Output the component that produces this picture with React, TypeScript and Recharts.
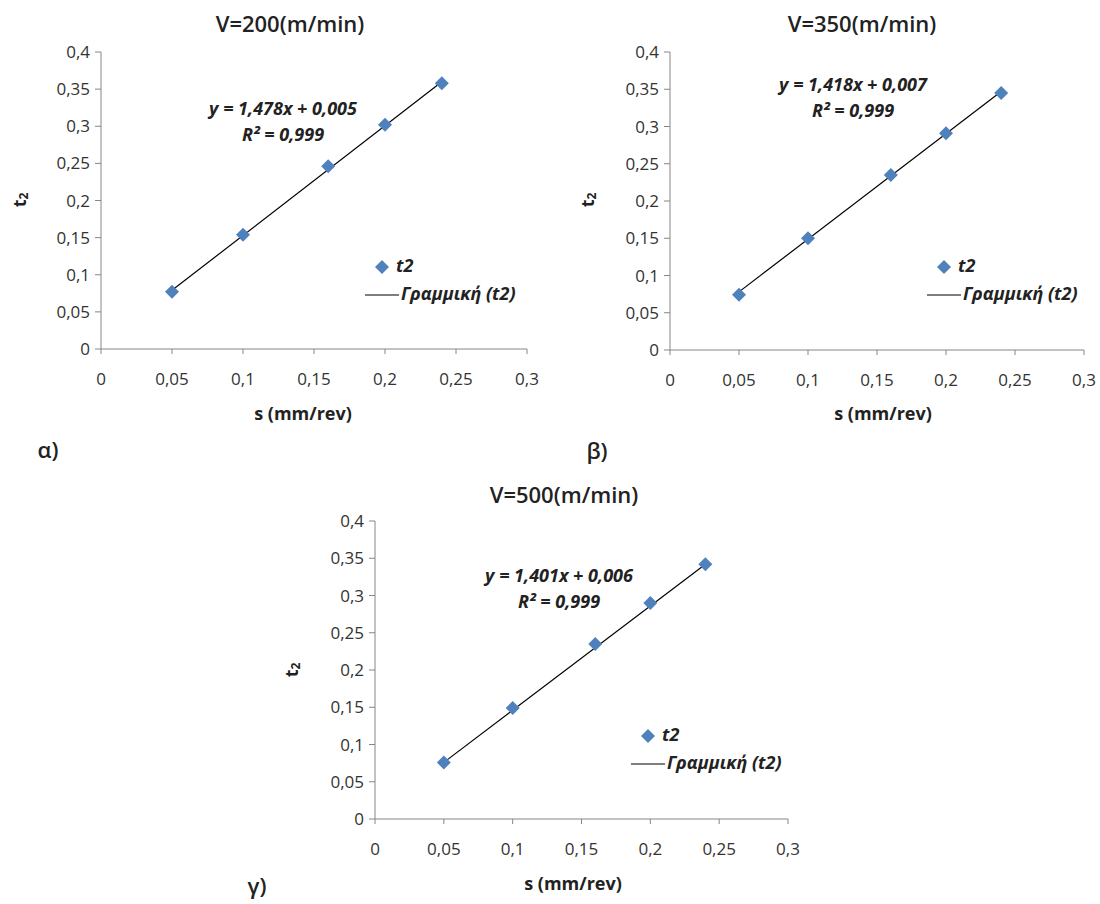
import { ScatterChart, Scatter, XAxis, YAxis } from "recharts";

const S_VALUES = [0.05, 0.1, 0.16, 0.2, 0.24];
const T2_V200 = [0.077, 0.154, 0.246, 0.302, 0.358];
const T2_V350 = [0.074, 0.15, 0.235, 0.291, 0.345];
const T2_V500 = [0.076, 0.149, 0.235, 0.29, 0.342];

// trend line end points
const TREND_S = [0.05, 0.24];
const TREND_V200 = [0.079, 0.36];
const TREND_V350 = [0.078, 0.347];
const TREND_V500 = [0.076, 0.342];

const X_TICKS = [0, 0.05, 0.1, 0.15, 0.2, 0.25, 0.3];
const Y_TICKS = [0, 0.05, 0.1, 0.15, 0.2, 0.25, 0.3, 0.35, 0.4];

const TITLES = ["V=200(m/min)", "V=350(m/min)", "V=500(m/min)"];
const EQUATIONS = ["y = 1,478x + 0,005", "y = 1,418x + 0,007", "y = 1,401x + 0,006"];
const R2_TEXT = ["0,999", "0,999", "0,999"];
const TAGS = ["α)", "β)", "γ)"];

const FONT = "'Open Sans', 'Noto Sans', sans-serif";
const BLUE = "#4F81BD";
const AXIS = "#868686";
const TEXT = "#333333";

const panels = [
  {
    points: S_VALUES.map((s, i) => ({ s, t: T2_V200[i] })),
    trend: TREND_S.map((s, i) => ({ s, t: TREND_V200[i] })),
    box: { left: 0, top: 0, width: 560, height: 440 },
    margin: { top: 52, right: 33, bottom: 61, left: 41 },
    title: [290, 26], eq: [283, 110], legend: [382, 267], ylab: [21, 200], xlab: [303, 415], tag: [48, 452],
  },
  {
    points: S_VALUES.map((s, i) => ({ s, t: T2_V350[i] })),
    trend: TREND_S.map((s, i) => ({ s, t: TREND_V350[i] })),
    box: { left: 560, top: 0, width: 540, height: 440 },
    margin: { top: 52, right: 16, bottom: 60, left: 50 },
    title: [862, 26], eq: [853, 86], legend: [944, 267], ylab: [589, 200], xlab: [883, 415], tag: [597, 453],
  },
  {
    points: S_VALUES.map((s, i) => ({ s, t: T2_V500[i] })),
    trend: TREND_S.map((s, i) => ({ s, t: TREND_V500[i] })),
    box: { left: 300, top: 470, width: 520, height: 434 },
    margin: { top: 51, right: 32, bottom: 55, left: 15 },
    title: [564, 497], eq: [559, 577], legend: [648, 736], ylab: [293, 670], xlab: [573, 885], tag: [257, 888],
  },
];

const fmt = (v: number) => String(v).replace(".", ",");

const Diamond = (props: any) => {
  const { cx, cy } = props;
  const r = 7;
  return <path d={`M${cx},${cy - r}L${cx + r},${cy}L${cx},${cy + r}L${cx - r},${cy}Z`} fill={BLUE} />;
};

const NoShape = () => <g />;

export default function App() {
  return (
    <div style={{ position: "relative", width: 1100, height: 904, background: "#fff", overflow: "hidden" }}>
      <style>{"body{margin:0}"}</style>
      {panels.map((p, k) => (
        <div key={k} style={{ position: "absolute", left: p.box.left, top: p.box.top }}>
          <ScatterChart width={p.box.width} height={p.box.height} margin={p.margin}>
            <XAxis
              type="number"
              dataKey="s"
              domain={[0, 0.3]}
              ticks={X_TICKS}
              tickFormatter={fmt}
              height={30}
              stroke={AXIS}
              tickSize={5}
              tickMargin={19}
              tick={{ fill: TEXT, fontSize: 17, fontFamily: FONT }}
            />
            <YAxis
              type="number"
              dataKey="t"
              domain={[0, 0.4]}
              ticks={Y_TICKS}
              tickFormatter={fmt}
              width={60}
              stroke={AXIS}
              tickSize={6}
              tickMargin={5}
              tick={{ fill: TEXT, fontSize: 17, fontFamily: FONT }}
            />
            <Scatter
              data={p.trend}
              line={{ stroke: "#000", strokeWidth: 1.2 }}
              shape={NoShape}
              isAnimationActive={false}
            />
            <Scatter data={p.points} shape={Diamond} isAnimationActive={false} />
          </ScatterChart>
        </div>
      ))}
      <svg width={1100} height={904} style={{ position: "absolute", left: 0, top: 0, pointerEvents: "none" }}>
        {panels.map((p, k) => (
          <g key={k} fontFamily={FONT} fill="#222">
            <text x={p.title[0]} y={p.title[1]} textAnchor="middle" dominantBaseline="middle" fontSize={22} fontWeight={600}>
              {TITLES[k]}
            </text>
            <text x={p.eq[0]} y={p.eq[1]} textAnchor="middle" dominantBaseline="middle" fontSize={18} fontWeight={700} fontStyle="italic">
              {EQUATIONS[k]}
            </text>
            <text x={p.eq[0]} y={p.eq[1] + 26} textAnchor="middle" dominantBaseline="middle" fontSize={18} fontWeight={700} fontStyle="italic">
              R² = {R2_TEXT[k]}
            </text>
            <path d={`M${p.legend[0]},${p.legend[1] - 7}l7,7l-7,7l-7,-7z`} fill={BLUE} />
            <text x={p.legend[0] + 14} y={p.legend[1]} dominantBaseline="middle" fontSize={18} fontWeight={700} fontStyle="italic">
              t2
            </text>
            <line x1={p.legend[0] - 17} x2={p.legend[0] + 17} y1={p.legend[1] + 28} y2={p.legend[1] + 28} stroke="#000" strokeWidth={1} />
            <text x={p.legend[0] + 19} y={p.legend[1] + 28} dominantBaseline="middle" fontSize={18} fontWeight={700} fontStyle="italic">
              Γραμμική (t2)
            </text>
            <text
              x={p.ylab[0]}
              y={p.ylab[1]}
              textAnchor="middle"
              dominantBaseline="middle"
              fontSize={18}
              fontWeight={700}
              transform={`rotate(-90 ${p.ylab[0]} ${p.ylab[1]})`}
            >
              t<tspan fontSize={12} dy={4}>2</tspan>
            </text>
            <text x={p.xlab[0]} y={p.xlab[1]} textAnchor="middle" dominantBaseline="middle" fontSize={18} fontWeight={700}>
              s (mm/rev)
            </text>
            <text x={p.tag[0]} y={p.tag[1]} textAnchor="middle" dominantBaseline="middle" fontSize={22} fontWeight={600}>
              {TAGS[k]}
            </text>
          </g>
        ))}
      </svg>
    </div>
  );
}
